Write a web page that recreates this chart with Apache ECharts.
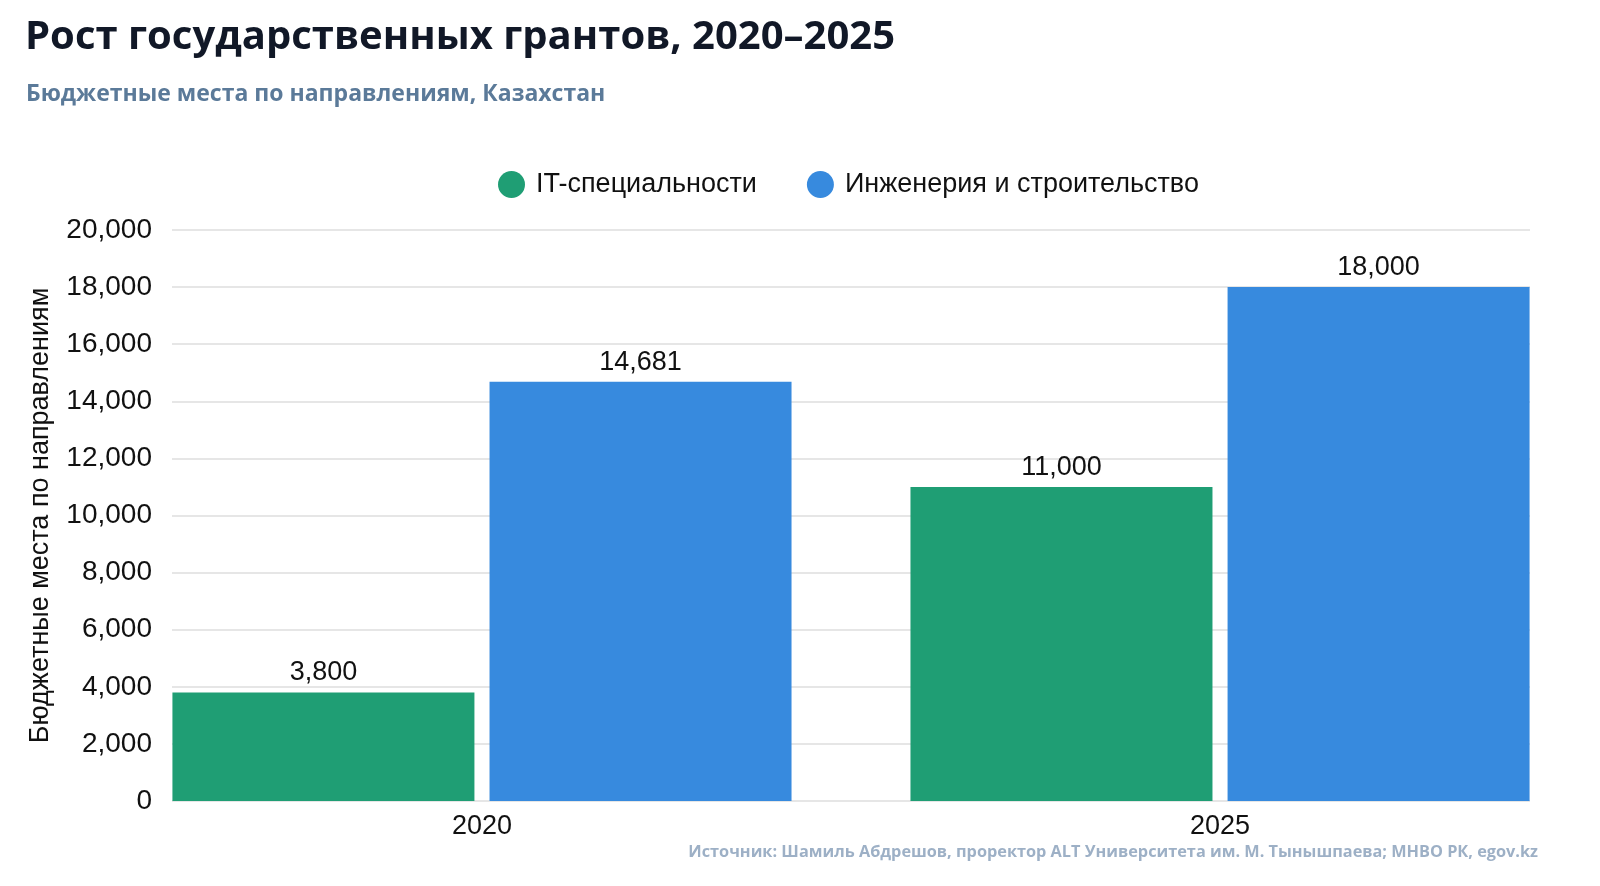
<!DOCTYPE html>
<html>
<head>
<meta charset="utf-8">
<script src="https://cdn.jsdelivr.net/npm/echarts@6/dist/echarts.min.js"></script>
<style>
  html, body { margin: 0; padding: 0; background: #fff; }
  #main { width: 1600px; height: 886px; }
</style>
</head>
<body>
<div id="main"></div>
<script>
var myChart = echarts.init(document.getElementById('main'));

// data
const years = ['2020', '2025'];
const itValues = [3800, 11000];
const engValues = [14681, 18000];
const seriesNames = ['IT-специальности', 'Инженерия и строительство'];

const fmt = v => v.toLocaleString('en-US');

// bars sit on index positions of the years array
const toPoints = vals => vals.map((v, i) => [i, v]);

var option = {
    backgroundColor: '#ffffff',
    title: [
        {
            text: 'Рост государственных грантов, 2020–2025',
            left: 20, top: 13,
            textStyle: { fontFamily: 'Open Sans', fontWeight: 'bold', fontSize: 40, color: '#111827' }
        },
        {
            text: 'Бюджетные места по направлениям, Казахстан',
            left: 21, top: 78,
            textStyle: { fontFamily: 'Open Sans', fontWeight: 'bold', fontSize: 23, color: '#5b7a99' }
        },
        {
            text: 'Источник: Шамиль Абдрешов, проректор ALT Университета им. М. Тынышпаева; МНВО РК, egov.kz',
            right: 57, top: 839,
            textStyle: { fontFamily: 'Open Sans', fontWeight: 'bold', fontSize: 16.3, color: '#9db0c6' }
        }
    ],
    legend: {
        top: 166,
        left: 493,
        icon: 'circle',
        itemWidth: 27, itemHeight: 27,
        itemGap: 50,
        textStyle: { fontFamily: 'Liberation Sans', fontSize: 27, color: '#111', padding: [0, 0, 0, 6] },
        data: seriesNames
    },
    grid: { left: 172, right: 70, top: 230, bottom: 85 },
    xAxis: {
        type: 'value',
        min: -0.42, max: 1.42,
        splitLine: { show: false },
        axisLine: { show: false },
        axisTick: { show: false },
        axisLabel: {
            customValues: [0, 1],
            formatter: v => years[Math.round(v)],
            fontFamily: 'Liberation Sans', fontSize: 27, color: '#111', margin: 12
        }
    },
    yAxis: {
        type: 'value',
        min: 0, max: 20000, interval: 2000,
        name: 'Бюджетные места по направлениям',
        nameLocation: 'middle',
        nameGap: 118,
        nameTextStyle: { fontFamily: 'Liberation Sans', fontSize: 27, color: '#111' },
        axisLine: { show: false },
        axisTick: { show: false },
        splitLine: { lineStyle: { color: '#dedede', width: 1.5 } },
        axisLabel: {
            formatter: fmt,
            fontFamily: 'Liberation Sans', fontSize: 28, color: '#111', margin: 20
        }
    },
    series: [
        {
            name: seriesNames[0],
            type: 'bar',
            data: toPoints(itValues),
            barWidth: 302,
            barGap: '5%',
            itemStyle: { color: '#1f9e74' },
            label: {
                show: true, position: 'top', distance: 6,
                formatter: p => fmt(p.value[1]),
                fontFamily: 'Liberation Sans', fontSize: 27, color: '#111'
            }
        },
        {
            name: seriesNames[1],
            type: 'bar',
            data: toPoints(engValues),
            barWidth: 302,
            barGap: '5%',
            itemStyle: { color: '#378ade' },
            label: {
                show: true, position: 'top', distance: 6,
                formatter: p => fmt(p.value[1]),
                fontFamily: 'Liberation Sans', fontSize: 27, color: '#111'
            }
        }
    ]
};
myChart.setOption(option);
</script>
</body>
</html>
